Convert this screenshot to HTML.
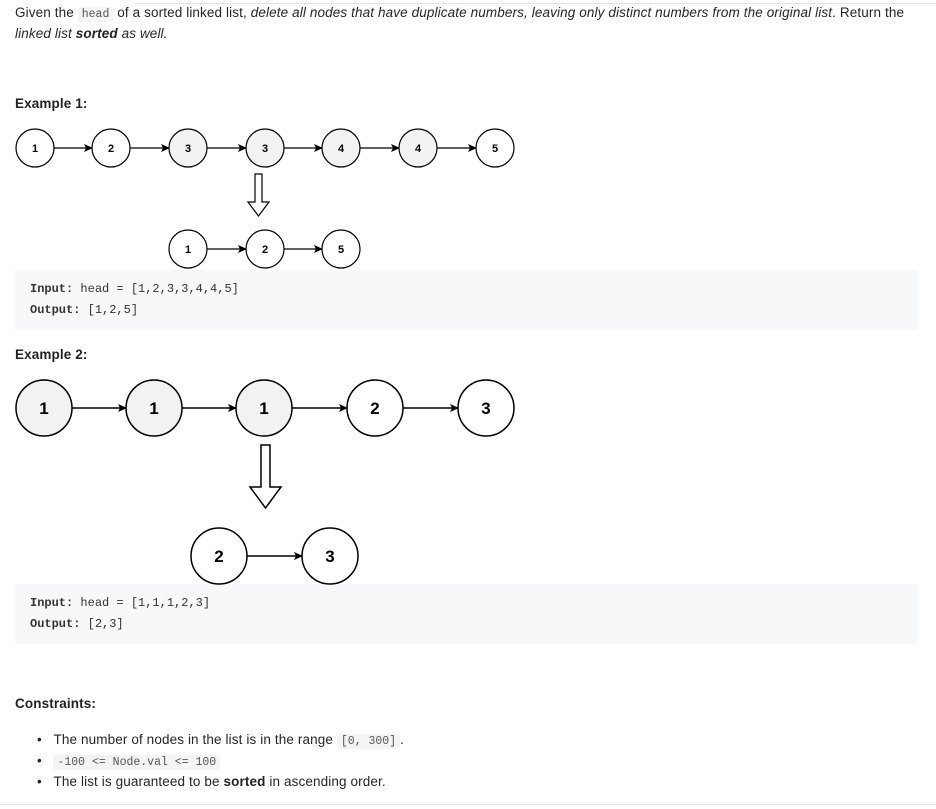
<!DOCTYPE html>
<html><head><style>
body{margin:0;width:936px;height:809px;background:#fff;position:relative;overflow:hidden;font-family:"Liberation Sans",sans-serif;font-size:13.5px;color:#262626}
.a{position:absolute;white-space:nowrap;letter-spacing:0.12px}
code{font-family:"Liberation Mono",monospace;font-size:11.5px;background:#f3f4f5;color:#555;padding:1px 4px;border-radius:3px;letter-spacing:0}
.pre{position:absolute;left:15px;width:903px;background:#f7f8fa;font-family:"Liberation Mono",monospace;font-size:12px;color:#333}
.pre div{position:absolute;left:15px}
b{font-weight:bold;color:#222}
</style></head><body>
<div style="position:absolute;left:135px;top:3px;width:801px;height:1px;background:#e5e5e5"></div>
<div class="a" style="left:15px;top:5px">Given the <code>head</code> of a sorted linked list, <i>delete all nodes that have duplicate numbers, leaving only distinct numbers from the original list</i>. Return the</div>
<div class="a" style="left:15px;top:26px"><i>linked list <b>sorted</b> as well.</i></div>
<div class="a" style="left:15px;top:96px"><b>Example 1:</b></div>
<div class="pre" style="top:270px;height:60px"><div style="top:12px"><b style="color:#333">Input:</b> head = [1,2,3,3,4,4,5]</div><div style="top:33px"><b style="color:#333">Output:</b> [1,2,5]</div></div>
<div class="a" style="left:15px;top:347px"><b>Example 2:</b></div>
<div class="pre" style="top:584px;height:60px"><div style="top:12px"><b style="color:#333">Input:</b> head = [1,1,1,2,3]</div><div style="top:33px"><b style="color:#333">Output:</b> [2,3]</div></div>
<div class="a" style="left:15px;top:696px"><b>Constraints:</b></div>
<div class="a" style="left:37px;top:732px">•&nbsp;&nbsp;&nbsp;The number of nodes in the list is in the range <code>[0, 300]</code>.</div>
<div class="a" style="left:37px;top:753px">•&nbsp;&nbsp;&nbsp;<code>-100 &lt;= Node.val &lt;= 100</code></div>
<div class="a" style="left:37px;top:774px">•&nbsp;&nbsp;&nbsp;The list is guaranteed to be <b>sorted</b> in ascending order.</div>
<div style="position:absolute;left:0;top:804px;width:936px;height:1px;background:#e5e5e5"></div>
<svg width="936" height="809" style="position:absolute;left:0;top:0" font-family="Liberation Sans,sans-serif" font-weight="bold">
<defs><marker id="m" markerWidth="9" markerHeight="9" refX="8" refY="4.5" orient="auto" markerUnits="userSpaceOnUse"><path d="M0,0.5 L9,4.5 L0,8.5 L2,4.5z" fill="#000"/></marker></defs>
<g stroke="#000" stroke-width="1.2">
<line x1="54" y1="148" x2="92" y2="148" marker-end="url(#m)"/>
<line x1="130" y1="148" x2="169" y2="148" marker-end="url(#m)"/>
<line x1="207" y1="148" x2="246" y2="148" marker-end="url(#m)"/>
<line x1="284" y1="148" x2="322" y2="148" marker-end="url(#m)"/>
<line x1="360" y1="148" x2="399" y2="148" marker-end="url(#m)"/>
<line x1="437" y1="148" x2="476" y2="148" marker-end="url(#m)"/>
<line x1="207" y1="249" x2="246" y2="249" marker-end="url(#m)"/>
<line x1="284" y1="249" x2="322" y2="249" marker-end="url(#m)"/>
<line x1="72" y1="408" x2="126" y2="408" marker-end="url(#m)" stroke-width="1.5"/>
<line x1="182" y1="408" x2="236" y2="408" marker-end="url(#m)" stroke-width="1.5"/>
<line x1="292" y1="408" x2="347" y2="408" marker-end="url(#m)" stroke-width="1.5"/>
<line x1="403" y1="408" x2="458" y2="408" marker-end="url(#m)" stroke-width="1.5"/>
<line x1="247" y1="556" x2="302" y2="556" marker-end="url(#m)" stroke-width="1.5"/>
</g>
<g stroke="#000" stroke-width="1.2" font-size="11" text-anchor="middle">
<circle cx="35" cy="148" r="19" fill="#fff"/><circle cx="111" cy="148" r="19" fill="#fff"/>
<circle cx="188" cy="148" r="19" fill="#f2f2f2"/><circle cx="265" cy="148" r="19" fill="#f2f2f2"/>
<circle cx="341" cy="148" r="19" fill="#f2f2f2"/><circle cx="418" cy="148" r="19" fill="#f2f2f2"/>
<circle cx="495" cy="148" r="19" fill="#fff"/>
<circle cx="188" cy="249" r="19" fill="#fff"/><circle cx="265" cy="249" r="19" fill="#fff"/><circle cx="341" cy="249" r="19" fill="#fff"/>
<path d="M255,174 H262 V202 H269 L258.5,216 L248,202 H255 Z" fill="#fff"/>
<circle cx="44" cy="408" r="28" fill="#f2f2f2" stroke-width="1.5"/><circle cx="154" cy="408" r="28" fill="#f2f2f2" stroke-width="1.5"/>
<circle cx="264" cy="408" r="28" fill="#f2f2f2" stroke-width="1.5"/><circle cx="375" cy="408" r="28" fill="#fff" stroke-width="1.5"/>
<circle cx="486" cy="408" r="28" fill="#fff" stroke-width="1.5"/>
<circle cx="219" cy="556" r="28" fill="#fff" stroke-width="1.5"/><circle cx="330" cy="556" r="28" fill="#fff" stroke-width="1.5"/>
<path d="M261,445 H270 V487 H281 L265.5,508 L250,487 H261 Z" fill="#fff" stroke-width="1.5"/>
</g>
<g font-size="11" text-anchor="middle" fill="#000">
<text x="35" y="152">1</text><text x="111" y="152">2</text><text x="188" y="152">3</text><text x="265" y="152">3</text><text x="341" y="152">4</text><text x="418" y="152">4</text><text x="495" y="152">5</text>
<text x="188" y="253">1</text><text x="265" y="253">2</text><text x="341" y="253">5</text>
</g>
<g font-size="17" text-anchor="middle" fill="#000">
<text x="44" y="414">1</text><text x="154" y="414">1</text><text x="264" y="414">1</text><text x="375" y="414">2</text><text x="486" y="414">3</text>
<text x="219" y="562">2</text><text x="330" y="562">3</text>
</g>
</svg>
</body></html>
